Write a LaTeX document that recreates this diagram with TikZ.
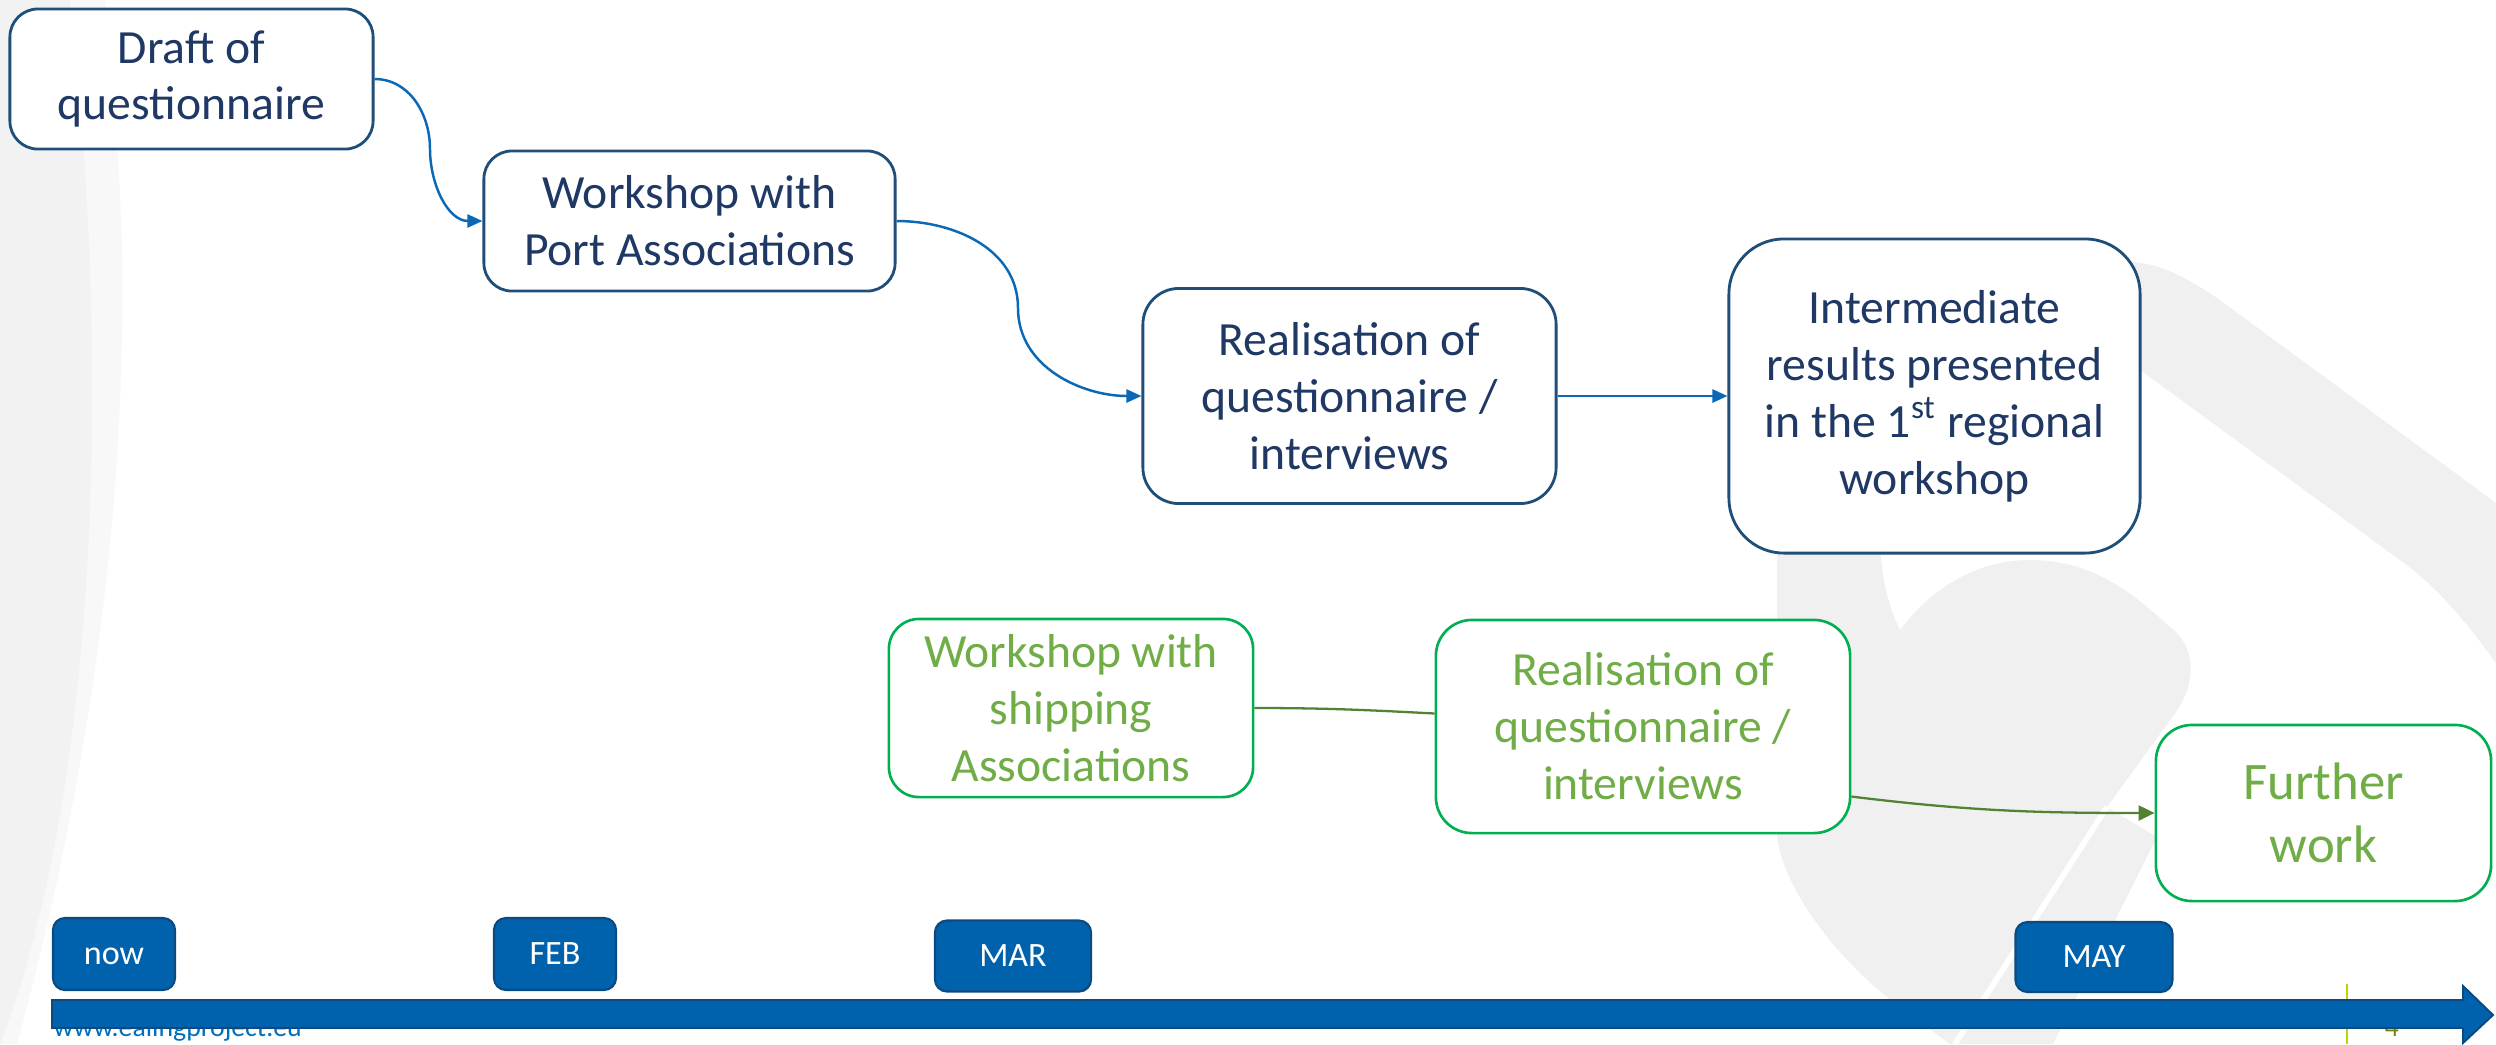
\documentclass[tikz,border=0pt]{standalone}
\usepackage{fontspec}
\setmainfont{Carlito}
\usetikzlibrary{arrows.meta}

\definecolor{navytext}{HTML}{1F3864}
\definecolor{boxblue}{HTML}{1F4E79}
\definecolor{linkblue}{HTML}{0A68B4}
\definecolor{barblue}{HTML}{0062AC}
\definecolor{bardark}{HTML}{0B4A80}
\definecolor{boxgreen}{HTML}{00B050}
\definecolor{textgreen}{HTML}{70AD47}
\definecolor{linkgreen}{HTML}{548235}
\definecolor{wmgray}{HTML}{F0F0F0}
\definecolor{bandgray}{HTML}{F2F2F2}
\definecolor{bandlight}{HTML}{F8F8F8}
\definecolor{weburl}{HTML}{0070C0}
\definecolor{pagenum}{HTML}{7F7F00}
\definecolor{rulelime}{HTML}{C5D100}

\begin{document}
\begin{tikzpicture}[x=0.01cm,y=-0.01cm,
  stepbox/.style={draw=boxblue, line width=0.8pt, fill=white, align=center,
    text=navytext, font=\fontsize{13.55}{16.2}\selectfont, inner sep=0pt},
  greenbox/.style={draw=boxgreen, line width=0.75pt, fill=white, align=center,
    text=textgreen, font=\fontsize{13.55}{16.2}\selectfont, inner sep=0pt},
  datebox/.style={draw=bardark, line width=0.6pt, fill=barblue, text=white,
    font=\fontsize{9.7}{11}\selectfont, rounded corners=0.12cm, inner sep=0pt,
    text height=0.21cm, text depth=0cm},
  bluelink/.style={draw=linkblue, line width=0.7pt,
    -{Triangle[length=0.15cm,width=0.13cm]}},
  greenlink/.style={draw=linkgreen, line width=0.65pt},
]
% page frame
\useasboundingbox (0,0) rectangle (2496,1044);
\fill[white] (0,0) rectangle (2496,1044);

% curved band on the left edge
\fill[bandlight] (0,0) -- (105,0) .. controls (120,150) and (124,250) .. (122,333)
  .. controls (118,600) and (70,850) .. (17,1044) -- (0,1044) -- cycle;
\fill[bandgray] (0,0) -- (70,0) .. controls (85,130) and (93,280) .. (92,400)
  .. controls (92,580) and (75,850) .. (0,1044) -- cycle;

% faint logo in the background
\fill[wmgray] (2128,262) .. controls (2160,262) and (2190,280) .. (2217,298)
  -- (2496,503) -- (2496,663) .. controls (2465,620) and (2435,585) .. (2400,560)
  -- (2143,372) -- (2100,380) -- cycle;
\fill[wmgray] (1777,545) -- (1777,834) .. controls (1780,880) and (1830,960) .. (1920,1022)
  -- (1950,1044) -- (2053,1044) -- (2157,837) -- (2107,807) -- (2170,720)
  .. controls (2195,690) and (2200,650) .. (2170,627)
  .. controls (2130,590) and (2090,560) .. (2030,560)
  .. controls (1975,560) and (1930,590) .. (1900,630)
  .. controls (1888,605) and (1882,580) .. (1880,545) -- cycle;
\draw[white, line width=1.6pt] (2107,807) -- (1955,1044);

% upper row: port associations
\node[stepbox, rounded corners=0.28cm, minimum width=3.63cm, minimum height=1.40cm]
  (draft) at (191.5,79) {Draft of\\questionnaire};
\node[stepbox, rounded corners=0.28cm, minimum width=4.11cm, minimum height=1.40cm]
  (port) at (689.5,221) {Workshop with\\Port Associations};
\node[stepbox, rounded corners=0.36cm, minimum width=4.13cm, minimum height=2.15cm]
  (real) at (1349.5,396) {Realisation of\\questionnaire /\\interviews};
\node[stepbox, rounded corners=0.55cm, minimum width=4.11cm, minimum height=3.14cm]
  (inter) at (1934.5,396) {Intermediate\\results presented\\in the 1\textsuperscript{st} regional\\workshop};

\coordinate (bend1) at (430,149);
\coordinate (bend2) at (1018,308);
\draw[bluelink] (draft.east) to[out=0,in=90] (bend1) to[out=-90,in=180] (port.west);
\draw[bluelink] (port.east) to[out=0,in=90] (bend2) to[out=-90,in=180] (real.west);
\draw[bluelink] (real.east) -- (inter.west);

% lower row: shipping associations
\node[greenbox, rounded corners=0.30cm, minimum width=3.64cm, minimum height=1.78cm]
  (gwork) at (1071,708) {Workshop with\\shipping\\Associations};
\node[greenbox, rounded corners=0.36cm, minimum width=4.14cm, minimum height=2.13cm]
  (greal) at (1643,726.5) {Realisation of\\questionnaire /\\interviews};
\node[greenbox, rounded corners=0.36cm, minimum width=3.35cm, minimum height=1.76cm,
  font=\fontsize{15}{17.8}\selectfont] (further) at (2323.5,813) {Further\\work};

\draw[greenlink] (gwork.east) to[out=0,in=177] ([yshift=0.13cm]greal.west);
\draw[greenlink, -{Triangle[length=0.16cm,width=0.15cm]}]
  ([yshift=-0.70cm]greal.east) to[out=-7,in=180] (further.west);

% footer text partly covered by the time axis
\node[anchor=base west, inner sep=0pt, text=weburl, font=\fontsize{7.9}{9}\selectfont]
  (url) at (53,1036) {www.ealingproject.eu};
\node[anchor=base, inner sep=0pt, text=pagenum, font=\fontsize{7.9}{9}\selectfont]
  (pnum) at (2392,1036) {4};
\draw[rulelime, line width=0.45pt] (2347,984) -- (2347,1044);

% time axis
\fill[barblue, draw=bardark, line width=0.55pt]
  (52,1000) -- (2463,1000) -- (2463,986) -- (2493,1015) -- (2463,1043)
  -- (2463,1028) -- (52,1028) -- cycle;

% month markers
\node[datebox, minimum width=1.22cm, minimum height=0.72cm] (now) at (114,954) {now};
\node[datebox, minimum width=1.22cm, minimum height=0.72cm] (feb) at (555,954) {FEB};
\node[datebox, minimum width=1.56cm, minimum height=0.71cm] (mar) at (1013,956) {MAR};
\node[datebox, minimum width=1.57cm, minimum height=0.70cm] (may) at (2094,957) {MAY};
\end{tikzpicture}
\end{document}
